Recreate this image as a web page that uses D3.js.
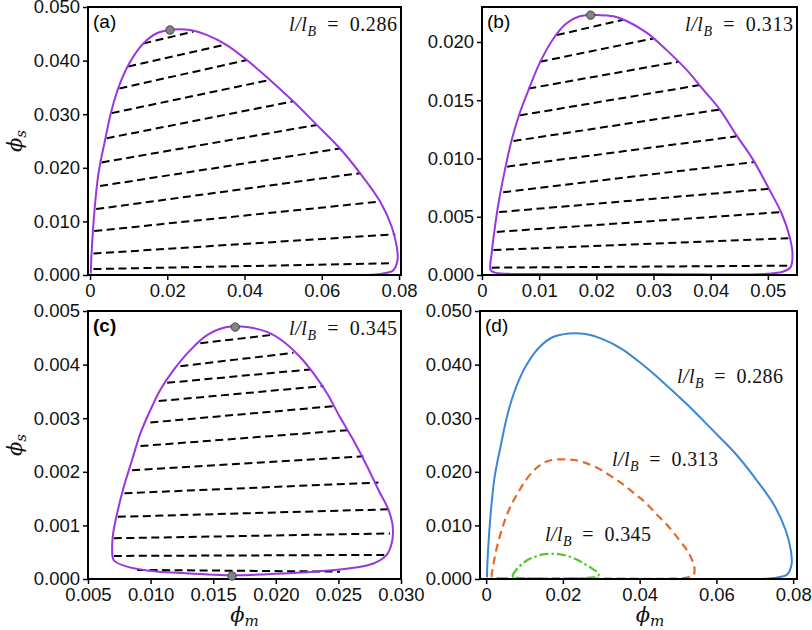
<!DOCTYPE html>
<html><head><meta charset="utf-8">
<script src="https://cdn.jsdelivr.net/npm/d3@7"></script>
<style>body{margin:0;background:#fff}</style></head>
<body><svg id="chart" width="812" height="630"></svg>
<script>
// ---- data ----
const curveA_x = [0.0002,0.0004,0.0011,0.0022,0.0039,0.0056,0.0078,0.0104,0.0138,0.0173,0.0216,0.0259,0.0302,0.0354,0.0406,0.0466,0.0526,0.0587,0.0647,0.0699,0.0751,0.0781,0.0794,0.0796,0.0785,0.0759,0.0716];
const curveA_y = [0.0003,0.004,0.0115,0.019,0.0252,0.0308,0.0358,0.0398,0.0432,0.0451,0.0458,0.0457,0.0448,0.0429,0.0401,0.0364,0.0324,0.0280,0.0236,0.019,0.0137,0.009,0.0053,0.0028,0.0009,0.0003,0.0000];
const curveB_x = [0.0049,0.0023,0.0015,0.0017,0.0022,0.0029,0.004,0.0052,0.0066,0.0084,0.0101,0.0125,0.0148,0.0171,0.0206,0.023,0.0253,0.0288,0.0323,0.0358,0.0387,0.0416,0.0445,0.0474,0.0503,0.0524,0.0538,0.0543,0.054,0.0527,0.0498,0.0300,0.0049];
const curveB_y = [0.0001,0.0002,0.00043,0.0019,0.0039,0.0062,0.009,0.0116,0.0139,0.0162,0.0182,0.0203,0.0216,0.0222,0.0223,0.0222,0.0218,0.0208,0.0193,0.0176,0.0159,0.0142,0.012,0.0099,0.0073,0.0053,0.0033,0.0019,0.0007,0.0003,0.0001,0.00008,0.0001];
const curveC_x = [0.00706,0.00693,0.00701,0.00733,0.00786,0.00852,0.00919,0.00998,0.01078,0.01184,0.01317,0.01451,0.0161,0.0177,0.0193,0.0206,0.0219,0.023,0.0241,0.0251,0.0262,0.0273,0.0282,0.029,0.02934,0.02926,0.02886,0.0278,0.02593,0.02328,0.0193,0.01663,0.01264,0.00972,0.00813];
const curveC_y = [0.00035,0.0006,0.00085,0.00123,0.00172,0.00222,0.00272,0.00315,0.00353,0.0039,0.00427,0.00455,0.0047,0.0047,0.00461,0.00443,0.00415,0.00384,0.00346,0.00303,0.00259,0.0021,0.00166,0.00129,0.00098,0.00067,0.00045,0.00029,0.0002,0.00014,0.00009,0.00007,0.00011,0.00016,0.00023];

const tieA_x1 = [0.0009,0.0009,0.0011,0.0016,0.0026,0.003,0.0043,0.0056,0.0076,0.0099,0.0138];
const tieA_y1 = [0.0011,0.004,0.0082,0.0123,0.0166,0.021,0.0255,0.0302,0.0348,0.0389,0.0432];
const tieA_x2 = [0.0777,0.079,0.0751,0.0699,0.0647,0.0587,0.0526,0.0466,0.0406,0.0345,0.0267];
const tieA_y2 = [0.0022,0.0076,0.0137,0.019,0.0236,0.0280,0.0324,0.0364,0.0401,0.0429,0.0454];
const tieB_x1 = [0.0017,0.002,0.0026,0.003,0.0037,0.0044,0.0055,0.0066,0.0081,0.0101,0.0131];
const tieB_y1 = [0.00063,0.00215,0.0037,0.0054,0.0071,0.0093,0.0115,0.0137,0.016,0.0183,0.0206];
const tieB_x2 = [0.0538,0.0536,0.0524,0.0503,0.0477,0.0445,0.0416,0.0381,0.0343,0.03,0.0247];
const tieB_y2 = [0.0008,0.00315,0.0054,0.0074,0.0097,0.0119,0.0142,0.0163,0.0183,0.0203,0.0219];
const tieC_x1 = [0.00892,0.00706,0.00706,0.00738,0.00791,0.00852,0.00919,0.00998,0.01065,0.01132,0.01238,0.01397];
const tieC_y1 = [0.00017,0.00043,0.00076,0.00116,0.0016,0.00203,0.00248,0.00292,0.00332,0.00366,0.00397,0.0044];
const tieC_x2 = [0.02513,0.02886,0.02912,0.02899,0.0282,0.027,0.02593,0.02487,0.02381,0.02274,0.02141,0.01955];
const tieC_y2 = [0.000137,0.00045,0.00085,0.0013,0.0018,0.00229,0.00278,0.00323,0.0036,0.00391,0.00422,0.00455];

const critA_x = [0.0207], critA_y = [0.0457];
const critB_x = [0.019],  critB_y = [0.0223];
const critC_x = [0.01676, 0.0165], critC_y = [0.0047, 0.000056];

const ticksA_x = [0,0.02,0.04,0.06,0.08];      const labelsA_x = ["0","0.02","0.04","0.06","0.08"];
const ticksA_y = [0,0.01,0.02,0.03,0.04,0.05]; const labelsA_y = ["0.000","0.010","0.020","0.030","0.040","0.050"];
const ticksB_x = [0,0.01,0.02,0.03,0.04,0.05]; const labelsB_x = ["0","0.01","0.02","0.03","0.04","0.05"];
const ticksB_y = [0,0.005,0.01,0.015,0.02];    const labelsB_y = ["0.000","0.005","0.010","0.015","0.020"];
const ticksC_x = [0.005,0.01,0.015,0.02,0.025,0.03]; const labelsC_x = ["0.005","0.010","0.015","0.020","0.025","0.030"];
const ticksC_y = [0,0.001,0.002,0.003,0.004,0.005];  const labelsC_y = ["0.000","0.001","0.002","0.003","0.004","0.005"];

const panelLabels = ["(a)","(b)","(c)","(d)"];
const ratioLabels = ["0.286","0.313","0.345"];

// ---- drawing ----
const svg = d3.select("#chart");
const PURPLE = "#9b35e0", COLORS = ["#3a87d6","#e8672a","#4ccc26"];
const SANS = "'Liberation Sans', Arial, sans-serif";
const SERIF = "'Liberation Serif','DejaVu Serif',serif";

function zip(xs, ys){ return xs.map((x,i)=>[x, ys[i]]); }

function makePanel(p){
  const g = svg.append("g");
  const x = d3.scaleLinear().domain(p.xd).range([p.l, p.r]);
  const y = d3.scaleLinear().domain(p.yd).range([p.b, p.t]);
  const ax = d3.axisBottom(x).tickValues(p.xt).tickFormat((d,i)=>p.xl[i]).tickSize(5).tickPadding(4);
  const ay = d3.axisLeft(y).tickValues(p.yt).tickFormat((d,i)=>p.yl[i]).tickSize(5).tickPadding(3);
  const gx = g.append("g").attr("transform",`translate(0,${p.b})`).call(ax);
  const gy = g.append("g").attr("transform",`translate(${p.l},0)`).call(ay);
  [gx,gy].forEach(a=>{
    a.select(".domain").remove();
    a.selectAll("line").attr("stroke","#000").attr("stroke-width",1.5);
    a.selectAll("text").attr("font-family",SANS).attr("font-size",18.5).attr("fill","#111");
  });
  const content = g.append("g");
  return {g, x, y, content};
}

function drawLabels(P, p, idx){
  P.g.append("text").attr("x", p.l+5).attr("y", p.t+21)
    .attr("font-family",SANS).attr("font-size",19).attr("font-weight", idx===2?600:400)
    .text(panelLabels[idx]);
}

function ratioText(g, x, y, anchor, val, width){
  const t = g.append("text").attr("x",x).attr("y",y).attr("text-anchor",anchor)
    .attr("font-family",SERIF).attr("font-size",20).attr("fill","#111")
    .attr("textLength", width).attr("lengthAdjust","spacing");
  t.append("tspan").attr("font-style","italic").text("l/l");
  t.append("tspan").attr("font-style","italic").attr("font-size",14).attr("dy",5).text("B");
  t.append("tspan").attr("dy",-5).text("\u2002=\u2002" + val);
}

function frame(P, p){
  P.g.append("rect").attr("x",p.l).attr("y",p.t).attr("width",p.r-p.l).attr("height",p.b-p.t)
    .attr("fill","none").attr("stroke","#000").attr("stroke-width",2);
}

function dots(P, xs, ys){
  P.g.selectAll(null).data(zip(xs,ys)).enter().append("circle")
    .attr("cx",d=>P.x(d[0])).attr("cy",d=>P.y(d[1])).attr("r",4.2)
    .attr("fill","#7f8485").attr("stroke","#444").attr("stroke-width",1);
}

function ties(P, x1,y1,x2,y2){
  P.content.selectAll(null).data(x1.map((d,i)=>i)).enter().append("line")
    .attr("x1",i=>P.x(x1[i])).attr("y1",i=>P.y(y1[i]))
    .attr("x2",i=>P.x(x2[i])).attr("y2",i=>P.y(y2[i]))
    .attr("stroke","#000").attr("stroke-width",2).attr("stroke-dasharray","8,4.5");
}

function curve(P, xs, ys, color, closed, dash, w){
  const line = d3.line().x(d=>P.x(d[0])).y(d=>P.y(d[1]))
    .curve(closed ? d3.curveCatmullRomClosed.alpha(0.5) : d3.curveCatmullRom.alpha(0.5));
  P.content.append("path").attr("d", line(zip(xs,ys))).attr("fill","none")
    .attr("stroke",color).attr("stroke-width",w||2).attr("stroke-linejoin","round")
    .attr("stroke-dasharray", dash||null);
}

const pa = {l:88,r:401,t:7,b:275, xd:[-0.00052,0.0805], yd:[0,0.05], xt:ticksA_x, xl:labelsA_x, yt:ticksA_y, yl:labelsA_y};
const pb = {l:482,r:797,t:7,b:275, xd:[0,0.0551], yd:[0,0.023], xt:ticksB_x, xl:labelsB_x, yt:ticksB_y, yl:labelsB_y};
const pc = {l:88,r:401,t:311,b:579, xd:[0.005,0.030], yd:[0,0.005], xt:ticksC_x, xl:labelsC_x, yt:ticksC_y, yl:labelsC_y};
const pd = {l:480,r:797,t:311,b:579, xd:[-0.0016,0.081], yd:[0,0.05], xt:ticksA_x, xl:labelsA_x, yt:ticksA_y, yl:labelsA_y};

const A = makePanel(pa);
ties(A, tieA_x1,tieA_y1,tieA_x2,tieA_y2);
curve(A, curveA_x, curveA_y, PURPLE, false);
frame(A, pa); dots(A, critA_x, critA_y); drawLabels(A, pa, 0);
ratioText(A.g, pa.r-4, pa.t+24, "end", ratioLabels[0], 108);

const B = makePanel(pb);
ties(B, tieB_x1,tieB_y1,tieB_x2,tieB_y2);
curve(B, curveB_x, curveB_y, PURPLE, false);
frame(B, pb); dots(B, critB_x, critB_y); drawLabels(B, pb, 1);
ratioText(B.g, pb.r-4, pb.t+24, "end", ratioLabels[1], 108);

const C = makePanel(pc);
ties(C, tieC_x1,tieC_y1,tieC_x2,tieC_y2);
curve(C, curveC_x, curveC_y, PURPLE, true);
frame(C, pc); dots(C, critC_x, critC_y); drawLabels(C, pc, 2);
ratioText(C.g, pc.r-4, pc.t+24, "end", ratioLabels[2], 108);

const D = makePanel(pd);
curve(D, curveA_x, curveA_y, COLORS[0], false, null, 2);
curve(D, curveB_x, curveB_y, COLORS[1], false, "8,5", 2.2);
curve(D, curveC_x, curveC_y, COLORS[2], true, "9,3,2.5,3", 2.2);
frame(D, pd); drawLabels(D, pd, 3);
ratioText(D.g, 677, 383, "start", ratioLabels[0], 106);
ratioText(D.g, 612, 466, "start", ratioLabels[1], 106);
ratioText(D.g, 545, 541, "start", ratioLabels[2], 106);

// axis titles
function phi(x, y, sub, rot){
  const t = svg.append("text").attr("transform",`translate(${x},${y}) rotate(${rot})`)
    .attr("text-anchor","middle").attr("font-family","'DejaVu Serif',serif").attr("font-style","italic")
    .attr("font-size",21).attr("fill","#111");
  t.append("tspan").text("\u03D5");
  t.append("tspan").attr("font-size",15).attr("dy",4).text(sub);
}
phi(22, 141, "s", -90);
phi(22, 445, "s", -90);
phi((pc.l+pc.r)/2, 622, "m", 0);
phi(650, 622, "m", 0);
</script></body></html>
